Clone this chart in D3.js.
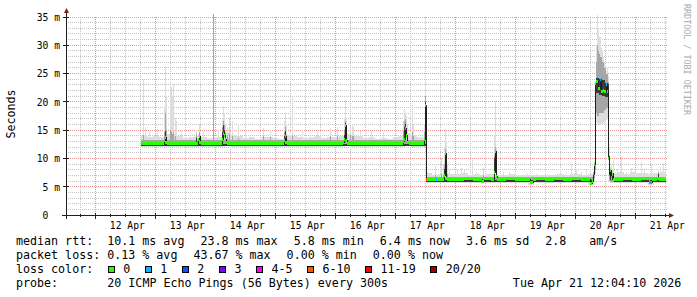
<!DOCTYPE html>
<html>
<head>
<meta charset="utf-8">
<script src="https://cdn.jsdelivr.net/npm/d3@7"></script>
<style>
    html, body { margin: 0; padding: 0; background: #fff; }
    svg { display: block; }
    text { font-family: "DejaVu Sans Mono", monospace; fill: #000; white-space: pre; }
</style>
</head>
<body>
<div id="chart"></div>
<script>
// times are "day of April 2026" with the fraction of the day (UTC)
var START = Date.UTC(2026, 3, 11, 12, 4, 10);
var END = Date.UTC(2026, 3, 21, 12, 4, 10);

var yTicks = [0, 5, 10, 15, 20, 25, 30, 35];
var yTickLabels = [' 0', ' 5 m', '10 m', '15 m', '20 m', '25 m', '30 m', '35 m'];
var dayTicks = [12.5, 13.5, 14.5, 15.5, 16.5, 17.5, 18.5, 19.5, 20.5, 21.5];
var dayLabels = ['12 Apr', '13 Apr', '14 Apr', '15 Apr', '16 Apr', '17 Apr', '18 Apr', '19 Apr', '20 Apr', '21 Apr'];

var lossLabels = ['0', '1', '2', '3', '4-5', '6-10', '11-19', '20/20'];
var lossColors = ['#26ff00', '#00b8ff', '#0059ff', '#7e00ff', '#ff00ff', '#ff5500', '#ff0000', '#a10000'];

var rttLegend = ['median rtt:  10.1 ms avg', '23.8 ms max', '5.8 ms min', '6.4 ms now', '3.6 ms sd', '2.8 ', 'am/s'];
var lossLegend = ['packet loss: 0.13 % avg', '43.67 % max', '0.00 % min', '0.00 % now'];
var probeText = '20 ICMP Echo Pings (56 Bytes) every 300s';
var stampText = 'Tue Apr 21 12:04:10 2026';

// median rtt in ms: [day, ms, loss colour index], step after
var median = [
    [12.753, 12.6, 0], [12.85, 12.7, 0], [12.95, 12.6, 0], [13.05, 12.7, 0],
    [13.137, 13.1, 0], [13.153, 13.7, 0], [13.17, 12.9, 0], [13.19, 12.6, 0],
    [13.30, 12.7, 0], [13.45, 12.6, 0], [13.55, 12.7, 0], [13.703, 13.3, 0],
    [13.72, 13.9, 0], [13.737, 12.8, 0], [13.76, 12.7, 0], [13.90, 12.6, 0],
    [14.05, 12.7, 0], [14.108, 13.4, 0], [14.125, 14.4, 0], [14.141, 14.0, 0],
    [14.158, 13.3, 0], [14.175, 12.8, 0], [14.20, 12.6, 0], [14.40, 12.7, 0],
    [14.55, 12.6, 0], [14.70, 12.7, 0], [14.85, 12.6, 0], [15.00, 12.7, 0],
    [15.137, 13.1, 0], [15.153, 13.8, 0], [15.17, 12.9, 0], [15.19, 12.6, 0],
    [15.40, 12.7, 0], [15.60, 12.6, 0], [15.80, 12.7, 0], [16.00, 12.6, 0],
    [16.12, 12.8, 0], [16.137, 13.3, 0], [16.153, 15.9, 0], [16.17, 13.1, 0],
    [16.187, 12.7, 0], [16.35, 12.6, 0], [16.55, 12.7, 0], [16.75, 12.6, 0],
    [16.95, 12.7, 0], [17.12, 13.0, 0], [17.137, 13.4, 0], [17.153, 15.3, 0],
    [17.17, 14.0, 0], [17.187, 12.8, 0], [17.22, 12.7, 0], [17.40, 12.6, 0],
    [17.47, 13.3, 0], [17.487, 19.3, 0], [17.503, 6.3, 5], [17.52, 6.3, 0],
    [17.60, 6.2, 0], [17.68, 6.3, 1], [17.70, 6.3, 0], [17.803, 7.0, 0],
    [17.82, 10.8, 0], [17.837, 6.5, 0], [17.853, 6.3, 0], [18.00, 6.2, 0],
    [18.15, 6.4, 0], [18.30, 6.3, 0], [18.44, 6.0, 0], [18.47, 6.4, 0],
    [18.60, 6.3, 0], [18.645, 7.5, 0], [18.661, 11.2, 0], [18.678, 6.8, 0],
    [18.695, 6.3, 0], [18.85, 6.4, 0], [19.00, 6.3, 0], [19.15, 6.2, 0],
    [19.25, 5.8, 0], [19.29, 6.2, 0], [19.35, 6.4, 0], [19.50, 6.3, 0],
    [19.65, 6.4, 0], [19.80, 6.3, 0], [19.95, 6.4, 0], [20.10, 6.3, 0],
    [20.22, 6.2, 0], [20.25, 5.6, 0], [20.285, 6.0, 0], [20.30, 7.4, 0],
    [20.317, 9.0, 0], [20.334, 23.3, 0], [20.35, 23.6, 0], [20.384, 22.4, 0],
    [20.417, 23.9, 1], [20.434, 21.8, 0], [20.467, 22.0, 0], [20.484, 21.8, 0],
    [20.517, 23.0, 1], [20.534, 21.8, 0], [20.55, 10.0, 0], [20.567, 6.8, 0],
    [20.584, 7.9, 0], [20.60, 6.6, 0], [20.617, 7.2, 0], [20.634, 6.3, 0],
    [20.80, 6.4, 0], [20.95, 6.3, 0], [21.10, 6.4, 0], [21.22, 6.2, 0],
    [21.236, 5.7, 1], [21.27, 6.3, 0], [21.36, 6.4, 0], [21.40, 6.3, 0],
    [21.503, 6.3, 0]
];

// full spread of the pings: [day, min, max], step after
var smokeRange = [
    [12.753, 12.1, 14.2], [12.85, 12.1, 13.8], [12.95, 12.1, 14.0], [13.05, 12.1, 13.7],
    [13.15, 12.1, 14.3], [13.25, 12.1, 14.4], [13.35, 12.1, 14.0], [13.45, 12.1, 13.6],
    [13.55, 12.1, 13.7], [13.65, 12.1, 13.9], [13.75, 12.1, 13.8], [13.85, 12.1, 13.6],
    [13.95, 12.1, 13.7], [14.05, 12.1, 13.8], [14.15, 12.2, 14.6], [14.25, 12.1, 14.2],
    [14.35, 12.1, 13.9], [14.45, 12.1, 13.6], [14.55, 12.1, 13.7], [14.65, 12.1, 13.5],
    [14.75, 12.1, 13.8], [14.85, 12.1, 13.7], [14.95, 12.1, 13.6], [15.05, 12.1, 13.5],
    [15.15, 12.1, 14.2], [15.25, 12.1, 13.9], [15.35, 12.1, 13.7], [15.45, 12.1, 13.6],
    [15.55, 12.1, 13.8], [15.65, 12.1, 13.9], [15.75, 12.1, 13.6], [15.85, 12.1, 13.8],
    [15.95, 12.1, 13.7], [16.05, 12.1, 13.9], [16.15, 12.2, 14.4], [16.25, 12.1, 14.2],
    [16.35, 12.1, 13.9], [16.45, 12.1, 13.6], [16.55, 12.1, 13.7], [16.65, 12.1, 13.5],
    [16.75, 12.1, 13.6], [16.85, 12.1, 13.5], [16.95, 12.1, 13.7], [17.05, 12.1, 13.9],
    [17.15, 12.2, 14.5], [17.25, 12.1, 14.2], [17.35, 12.1, 13.8], [17.45, 12.1, 13.6],
    [17.503, 5.6, 7.4], [17.60, 5.6, 7.1], [17.70, 5.6, 7.3], [17.80, 5.7, 7.5],
    [17.90, 5.6, 7.2], [18.00, 5.6, 7.3], [18.10, 5.6, 7.4], [18.20, 5.6, 7.1],
    [18.30, 5.6, 7.2], [18.40, 5.6, 7.0], [18.50, 5.6, 7.2], [18.60, 5.6, 7.3],
    [18.70, 5.6, 7.1], [18.80, 5.6, 7.0], [18.90, 5.6, 7.2], [19.00, 5.6, 7.0],
    [19.10, 5.6, 7.1], [19.20, 5.3, 7.0], [19.30, 5.6, 7.1], [19.40, 5.6, 7.0],
    [19.50, 5.6, 7.1], [19.60, 5.6, 7.0], [19.70, 5.6, 7.2], [19.80, 5.6, 7.1],
    [19.90, 5.6, 7.3], [20.00, 5.6, 7.2], [20.10, 5.6, 7.1], [20.20, 5.3, 7.2],
    [20.30, 6.2, 9.5], [20.317, 7.0, 23.0], [20.334, 16.5, 30.0], [20.35, 16.0, 35.4],
    [20.367, 16.0, 33.0], [20.384, 15.9, 31.5], [20.40, 15.9, 31.5], [20.417, 16.0, 29.5],
    [20.434, 16.0, 29.2], [20.45, 16.2, 28.0], [20.467, 16.3, 27.0], [20.484, 16.5, 26.5],
    [20.50, 16.8, 25.5], [20.517, 17.0, 26.0], [20.534, 17.5, 24.5], [20.55, 6.0, 12.0],
    [20.567, 5.6, 8.5], [20.584, 5.6, 9.0], [20.60, 5.6, 8.0], [20.634, 5.6, 7.4],
    [20.70, 5.6, 7.6], [20.80, 5.6, 7.3], [20.90, 5.6, 7.6], [21.00, 5.6, 7.4],
    [21.10, 5.6, 7.5], [21.20, 5.3, 7.3], [21.30, 5.6, 7.5], [21.40, 5.6, 7.6],
    [21.503, 5.6, 7.4]
];

// middle part of the pings: [day, low, high]
var smokeMid = [
    [12.753, 12.15, 13.3], [17.503, 5.75, 6.8], [20.30, 6.5, 8.5], [20.317, 8.0, 21.0],
    [20.334, 18.0, 27.0], [20.35, 17.5, 30.0], [20.367, 17.5, 29.0], [20.384, 18.0, 28.5],
    [20.40, 18.0, 28.0], [20.434, 18.0, 27.0], [20.467, 18.5, 26.0], [20.50, 19.0, 25.0],
    [20.534, 19.0, 23.5], [20.55, 6.0, 10.5], [20.567, 5.75, 7.4], [20.634, 5.75, 6.8],
    [21.503, 5.75, 6.8]
];

// pings closest to the median: [day, low, high]
var smokeCore = [
    [12.753, 12.2, 12.6], [17.503, 5.85, 6.25], [20.30, 7.0, 7.9], [20.317, 8.8, 9.3],
    [20.334, 21.5, 24.3], [20.384, 21.2, 24.0], [20.434, 21.0, 23.8], [20.484, 20.8, 23.4],
    [20.534, 20.5, 23.2], [20.55, 9.5, 10.5], [20.567, 6.2, 7.2], [20.584, 7.2, 8.0],
    [20.60, 6.1, 6.8], [20.617, 6.6, 7.4], [20.634, 5.85, 6.25], [21.503, 5.85, 6.25]
];

// single slow samples: [day, max, top of middle part, top of core] (0 = none)
var spikes = [
    [12.791, 24.0, 14.0, 0], [12.82, 15.5, 0, 0], [12.90, 14.8, 0, 0], [13.02, 15.2, 0, 0],
    [13.137, 19.0, 14.5, 13.4], [13.153, 26.2, 18.0, 14.7], [13.17, 21.0, 15.0, 13.6],
    [13.24, 23.6, 15.0, 0], [13.261, 22.5, 14.6, 0], [13.28, 21.0, 14.2, 0], [13.30, 23.0, 14.5, 0],
    [13.33, 17.0, 13.8, 0], [13.348, 16.5, 0, 0], [13.42, 14.8, 0, 0],
    [13.681, 15.0, 14.2, 13.6], [13.72, 16.0, 14.6, 14.0], [13.80, 14.8, 0, 0],
    [13.958, 35.5, 35.5, 0], [14.05, 15.0, 0, 0],
    [14.108, 17.0, 15.5, 14.5], [14.125, 19.1, 16.5, 15.9], [14.141, 18.0, 15.8, 15.0],
    [14.158, 16.0, 14.5, 13.9], [14.19, 15.5, 14.0, 0], [14.236, 17.0, 14.2, 0],
    [14.286, 16.5, 13.8, 0], [14.386, 16.0, 13.6, 0], [14.50, 14.6, 0, 0],
    [14.791, 15.3, 13.8, 0], [14.903, 15.0, 13.7, 0],
    [15.137, 16.5, 14.5, 13.8], [15.153, 18.0, 15.4, 14.7], [15.17, 16.0, 14.0, 0],
    [15.274, 20.6, 14.0, 0], [15.45, 14.9, 0, 0], [15.70, 14.7, 0, 0],
    [15.903, 15.3, 13.8, 0], [16.036, 15.4, 13.9, 0],
    [16.137, 17.0, 15.0, 14.0], [16.153, 20.3, 16.5, 16.2], [16.17, 17.0, 14.5, 13.6],
    [16.25, 16.2, 14.0, 0], [16.27, 16.0, 13.9, 0], [16.30, 15.5, 13.8, 0],
    [16.403, 14.7, 0, 0], [16.60, 14.8, 0, 0], [16.80, 14.6, 0, 0],
    [17.12, 16.5, 14.8, 0], [17.137, 18.6, 16.5, 15.5], [17.153, 18.0, 16.8, 16.0],
    [17.17, 17.5, 15.0, 14.2], [17.20, 16.0, 14.0, 0], [17.27, 19.4, 14.5, 0],
    [17.30, 16.0, 13.8, 0], [17.47, 16.0, 14.5, 13.6], [17.487, 23.9, 21.0, 19.8],
    [17.52, 7.6, 0, 0], [17.653, 8.5, 7.0, 0], [17.764, 10.0, 7.2, 0], [17.787, 9.0, 7.0, 0],
    [17.803, 12.0, 9.0, 8.0], [17.82, 15.1, 11.5, 11.0], [17.837, 13.0, 10.5, 10.5],
    [17.853, 9.0, 7.2, 0], [17.90, 7.8, 0, 0], [18.00, 7.7, 0, 0], [18.02, 7.9, 0, 0],
    [18.098, 8.3, 0, 0], [18.15, 7.8, 0, 0], [18.278, 9.7, 0, 0], [18.35, 7.6, 0, 0],
    [18.453, 8.3, 7.0, 0], [18.645, 14.0, 10.5, 10.0], [18.661, 20.0, 12.0, 11.2],
    [18.678, 12.0, 8.5, 7.5], [18.80, 7.5, 0, 0], [18.90, 7.6, 0, 0], [19.00, 7.3, 0, 0],
    [19.20, 7.4, 0, 0], [19.35, 7.2, 0, 0], [19.50, 7.3, 0, 0], [19.70, 7.4, 0, 0],
    [19.85, 7.6, 0, 0], [19.931, 9.1, 0, 0], [20.014, 8.0, 0, 0], [20.10, 7.6, 0, 0],
    [20.18, 7.8, 0, 0], [20.625, 9.7, 0, 0], [20.70, 8.0, 0, 0], [20.764, 10.3, 0, 0],
    [20.85, 7.6, 0, 0], [20.931, 8.2, 0, 0], [21.00, 7.5, 0, 0], [21.098, 9.2, 0, 0],
    [21.15, 7.8, 0, 0], [21.264, 8.9, 0, 0], [21.30, 7.6, 0, 0], [21.374, 8.0, 7.6, 7.2],
    [21.403, 8.4, 0, 0], [21.458, 9.1, 0, 0]
];

var GRID = '#c4c4c4', MGRID = '#e89595', AXIS = '#1f1f1f', ARROW = '#801f1f';
var SMOKE = ['#dddddd', '#a6a6a6', '#3a3a3a'];

function day(d) { return new Date(Date.UTC(2026, 3, 1) + (d - 1) * 864e5); }
function px(v) { return Math.floor(v) + 0.5; }

var x = d3.scaleUtc().domain([new Date(START), new Date(END)]).range([66, 666]);
var y = d3.scaleLinear().domain([0, 35]).range([215, 17]);
function tx(d) { return x(day(d)); }

var svg = d3.select('#chart').append('svg')
    .attr('width', 697)
    .attr('height', 297)
    .attr('xml:space', 'preserve');

// grid
var grid = svg.append('g').attr('shape-rendering', 'crispEdges').attr('fill', 'none');
var hours = d3.utcHour.every(6).range(x.domain()[0], x.domain()[1]);
var minorV = hours.filter(d => d.getUTCHours() !== 0);
var majorV = hours.filter(d => d.getUTCHours() === 0);
var minorH = d3.range(1, 36).filter(v => v % 5 !== 0);
var majorH = yTicks.filter(v => v > 0);

grid.selectAll('.vmin').data(minorV).enter().append('line')
    .attr('x1', d => px(x(d))).attr('x2', d => px(x(d)))
    .attr('y1', 17).attr('y2', 215)
    .attr('stroke', GRID).attr('stroke-dasharray', '1,1');
grid.selectAll('.hmin').data(minorH).enter().append('line')
    .attr('x1', 66).attr('x2', 667)
    .attr('y1', d => px(y(d))).attr('y2', d => px(y(d)))
    .attr('stroke', GRID).attr('stroke-dasharray', '1,1');
grid.selectAll('.vmaj').data(majorV).enter().append('line')
    .attr('x1', d => px(x(d))).attr('x2', d => px(x(d)))
    .attr('y1', 17).attr('y2', 215)
    .attr('stroke', MGRID).attr('stroke-dasharray', '1,1');
grid.selectAll('.hmaj').data(majorH).enter().append('line')
    .attr('x1', 66).attr('x2', 667)
    .attr('y1', d => px(y(d))).attr('y2', d => px(y(d)))
    .attr('stroke', MGRID).attr('stroke-dasharray', '1,1');

// smoke
var bisect = d3.bisector(d => d[0]).right;
function medianAt(t) {
    var i = Math.max(0, bisect(median, t) - 1);
    return median[i][1];
}

var band = d3.area()
    .curve(d3.curveStepAfter)
    .x(d => tx(d[0]))
    .y0(d => y(d[1]))
    .y1(d => y(d[2]));

var plot = svg.append('g').attr('shape-rendering', 'crispEdges');

function drawSpikes(col, color) {
    plot.append('g').selectAll('rect')
        .data(spikes.filter(s => s[col] > 0))
        .enter().append('rect')
        .attr('x', s => Math.floor(tx(s[0])))
        .attr('width', 1)
        .attr('y', s => Math.floor(y(s[col])))
        .attr('height', s => Math.max(1, Math.ceil(y(medianAt(s[0]))) - Math.floor(y(s[col]))))
        .attr('fill', color);
}

drawSpikes(1, SMOKE[0]);
plot.append('path').datum(smokeRange).attr('d', band).attr('fill', SMOKE[0]);
drawSpikes(2, SMOKE[1]);
plot.append('path').datum(smokeMid).attr('d', band).attr('fill', SMOKE[1]);
drawSpikes(3, SMOKE[2]);
plot.append('path').datum(smokeCore).attr('d', band).attr('fill', SMOKE[2]);

// median: dark step line, then loss coloured band
var medianLine = d3.line()
    .curve(d3.curveStepAfter)
    .x(d => tx(d[0]))
    .y(d => px(y(d[1])));
plot.append('path').datum(median)
    .attr('d', medianLine)
    .attr('fill', 'none')
    .attr('stroke', '#202020')
    .attr('stroke-width', 1);

plot.append('g').selectAll('rect')
    .data(median.slice(0, -1))
    .enter().append('rect')
    .attr('x', d => Math.floor(tx(d[0])))
    .attr('width', (d, i) => Math.max(1, Math.floor(tx(median[i + 1][0])) - Math.floor(tx(d[0]))))
    .attr('y', d => Math.floor(y(d[1])) - 1)
    .attr('height', 3)
    .attr('fill', d => lossColors[d[2]]);

// axes
var axes = svg.append('g').attr('shape-rendering', 'crispEdges');
axes.append('line').attr('x1', 62).attr('x2', 670).attr('y1', 215.5).attr('y2', 215.5).attr('stroke', AXIS);
axes.append('line').attr('x1', 66.5).attr('x2', 66.5).attr('y1', 219).attr('y2', 13).attr('stroke', AXIS);
axes.selectAll('.xt').data(hours).enter().append('line')
    .attr('x1', d => px(x(d))).attr('x2', d => px(x(d)))
    .attr('y1', d => d.getUTCHours() === 0 ? 213 : 214)
    .attr('y2', d => d.getUTCHours() === 0 ? 219 : 217)
    .attr('stroke', AXIS);
axes.selectAll('.yt').data(yTicks.filter(v => v > 0)).enter().append('line')
    .attr('x1', 63).attr('x2', 69)
    .attr('y1', d => px(y(d))).attr('y2', d => px(y(d)))
    .attr('stroke', AXIS);
svg.append('path').attr('d', 'M64,13L69,13L66.5,8Z').attr('fill', ARROW);
svg.append('path').attr('d', 'M669,213L669,218L674,215.5Z').attr('fill', ARROW);

var xAxis = d3.axisBottom(x)
    .tickValues(dayTicks.map(day))
    .tickFormat((d, i) => dayLabels[i])
    .tickSize(0);
svg.append('g')
    .attr('transform', 'translate(1, 228.5)')
    .call(xAxis)
    .call(g => g.select('.domain').remove())
    .call(g => g.selectAll('text')
        .attr('y', 0).attr('dy', null)
        .attr('font-family', 'DejaVu Sans Mono')
        .attr('font-size', '9.7px')
        .attr('fill', '#000'));

var yAxis = d3.axisLeft(y)
    .tickValues(yTicks)
    .tickFormat((d, i) => yTickLabels[i])
    .tickSize(0);
svg.append('g')
    .attr('transform', 'translate(0, 3.4)')
    .call(yAxis)
    .call(g => g.select('.domain').remove())
    .call(g => g.selectAll('text')
        .attr('x', 36.7).attr('dy', null)
        .attr('text-anchor', 'start')
        .attr('font-family', 'DejaVu Sans Mono')
        .attr('font-size', '9.7px')
        .attr('fill', '#000'));

svg.append('text')
    .attr('transform', 'translate(15, 114) rotate(-90)')
    .attr('text-anchor', 'middle')
    .attr('font-size', '11.66px')
    .text('Seconds');

svg.append('text')
    .attr('transform', 'translate(684, 4) rotate(90)')
    .attr('font-size', '8.4px')
    .style('fill', '#aaaaaa')
    .text('RRDTOOL / TOBI OETIKER');

// legend
var legend = svg.append('g').attr('font-size', '11.66px');
var GAP = 16;

function row(items, baseline) {
    var cx = 16;
    items.forEach(s => {
        var t = legend.append('text').attr('x', cx).attr('y', baseline).text(s);
        cx += t.node().getComputedTextLength() + GAP;
    });
}
row(rttLegend, 245);
row(lossLegend, 259);

legend.append('text').attr('x', 16).attr('y', 273).text('loss color:');
var bx = 108.3;
lossLabels.forEach((label, i) => {
    legend.append('rect')
        .attr('x', Math.floor(bx) + 0.5).attr('y', 266.5)
        .attr('width', 6).attr('height', 6)
        .attr('fill', lossColors[i])
        .attr('stroke', '#000')
        .attr('shape-rendering', 'crispEdges');
    var t = legend.append('text').attr('x', bx + 15).attr('y', 273).text(label);
    bx += 15 + t.node().getComputedTextLength() + 15;
});

legend.append('text').attr('x', 16).attr('y', 287).text('probe:');
legend.append('text').attr('x', 107.3).attr('y', 287).text(probeText);
legend.append('text').attr('x', 681.3).attr('y', 287).attr('text-anchor', 'end').text(stampText);
</script>
</body>
</html>
